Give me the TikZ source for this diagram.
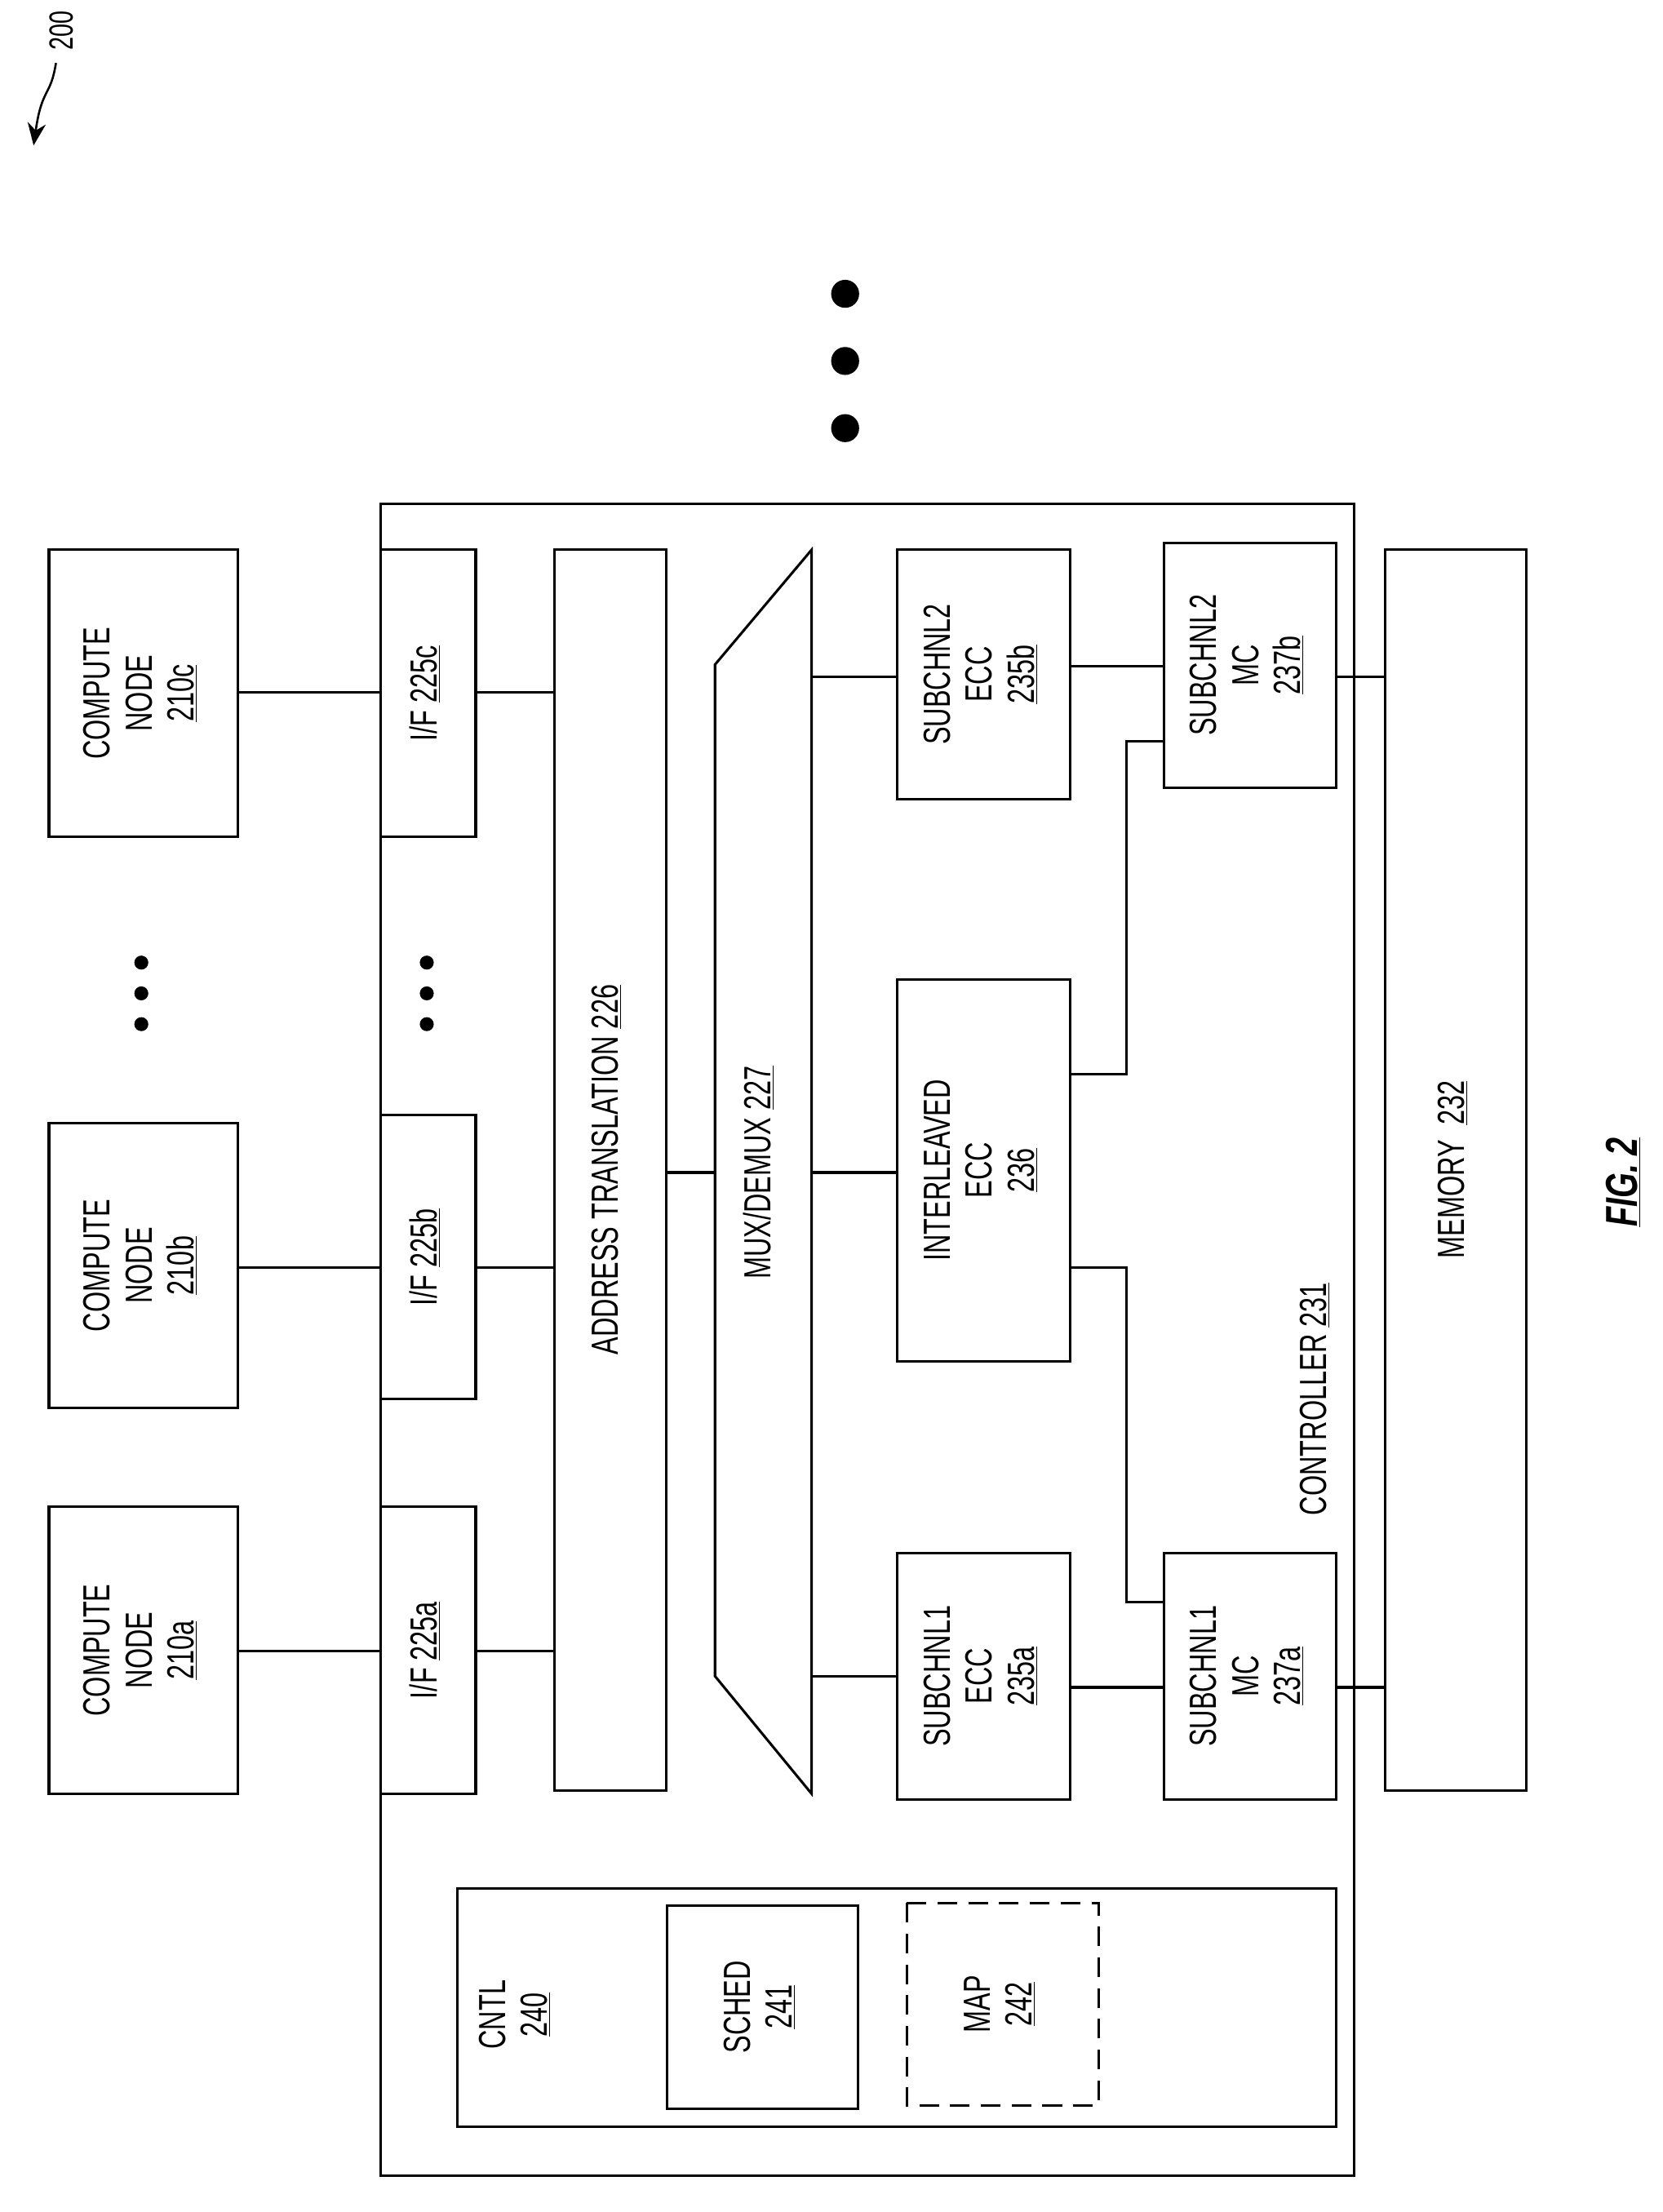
\documentclass[tikz,border=0pt]{standalone}
\usepackage{fontspec}
\setmainfont{Liberation Sans}
\usetikzlibrary{arrows.meta}
\newcommand{\sx}[1]{\scalebox{0.7}[1]{\begin{tabular}{@{}c@{}}#1\end{tabular}}}
\begin{document}
\begin{tikzpicture}[x=1pt,y=-1pt,line width=1.8pt,
  lbl/.style={rotate=90,inner sep=0pt,font=\fontsize{27}{30}\selectfont},
  dot/.style={circle,fill=black,inner sep=0pt,minimum size=#1}]
\useasboundingbox (0,0) rectangle (1188,1581);
% label 200
\node[rotate=90,inner sep=0pt,font=\fontsize{24}{26}\selectfont] (l200) at (44,22) {\scalebox{0.7}[1]{200}};
\coordinate (a200) at (24,104);
\draw[line width=1.5pt,-{Stealth[length=16pt,width=13pt]}] (40,45) .. controls (36,70) and (30,62) .. (a200);
% compute nodes
\draw (35,393) rectangle (170,598); \node[lbl] (c) at (102.5,495.5) {\sx{COMPUTE\\NODE\\\underline{210c}}};
\draw (35,803) rectangle (170,1006); \node[lbl] (b) at (102.5,904.5) {\sx{COMPUTE\\NODE\\\underline{210b}}};
\draw (35,1077) rectangle (170,1282); \node[lbl] (a) at (102.5,1179.5) {\sx{COMPUTE\\NODE\\\underline{210a}}};
\foreach \y in {688,710,732} {\node[dot=10pt] at (101,\y) {}; \node[dot=10pt] at (305,\y) {};}
\foreach \y in {210,258,306} \node[dot=20pt] at (604,\y) {};
% controller
\draw (272,360) rectangle (968,1555);
\node[lbl] (ctl) at (942,1000) {\sx{CONTROLLER \underline{231}}};
\draw (272,393) rectangle (340,598); \node[lbl] at (306,495.5) {\sx{I/F \underline{225c}}};
\draw (272,797) rectangle (340,1000); \node[lbl] at (306,898.5) {\sx{I/F \underline{225b}}};
\draw (272,1077) rectangle (340,1282); \node[lbl] at (306,1179.5) {\sx{I/F \underline{225a}}};
\draw (396,393) rectangle (476,1280); \node[lbl] at (436,836) {\sx{ADDRESS TRANSLATION \underline{226}}};
\draw (511,475) -- (580,393) -- (580,1282) -- (511,1198) -- cycle;
\node[lbl] at (545,838) {\sx{MUX/DEMUX \underline{227}}};
\draw (641,393) rectangle (765,571); \node[lbl] at (703,482) {\sx{SUBCHNL2\\ECC\\\underline{235b}}};
\draw (641,700) rectangle (765,973); \node[lbl] at (703,836.5) {\sx{INTERLEAVED\\ECC\\\underline{236}}};
\draw (641,1110) rectangle (765,1286); \node[lbl] at (703,1198) {\sx{SUBCHNL1\\ECC\\\underline{235a}}};
\draw (832,388) rectangle (955,563); \node[lbl] at (893.5,475.5) {\sx{SUBCHNL2\\MC\\\underline{237b}}};
\draw (832,1110) rectangle (955,1286); \node[lbl] at (893.5,1198) {\sx{SUBCHNL1\\MC\\\underline{237a}}};
\draw (990,393) rectangle (1091,1280); \node[lbl] at (1040.5,836) {\sx{MEMORY\ \ \underline{232}}};
% cntl
\draw (327,1350) rectangle (955,1520);
\node[lbl] at (370,1440) {\sx{CNTL\\\underline{240}}};
\draw (477,1362) rectangle (613,1507); \node[lbl] at (545,1434.5) {\sx{SCHED\\\underline{241}}};
\draw[dash pattern=on 14pt off 8pt] (648,1360) rectangle (785,1505); \node[lbl] at (716.5,1432.5) {\sx{MAP\\\underline{242}}};
% connectors
\foreach \y in {495,906,1180} {\draw (170,\y) -- (272,\y); \draw (340,\y) -- (396,\y);}
\draw (476,838) -- (511,838);
\draw (580,484) -- (641,484); \draw (580,838) -- (641,838); \draw (580,1198) -- (641,1198);
\draw (765,476) -- (832,476); \draw (765,1206) -- (832,1206);
\draw (955,484) -- (990,484); \draw (955,1206) -- (990,1206);
\draw (765,768) -- (805,768) -- (805,530) -- (832,530);
\draw (765,906) -- (805,906) -- (805,1145) -- (832,1145);
% fig
\node[rotate=90,font=\fontsize{32}{36}\selectfont\bfseries\itshape] at (1160,845) {\scalebox{0.72}[1]{\underline{FIG. 2}}};
\end{tikzpicture}
\end{document}
